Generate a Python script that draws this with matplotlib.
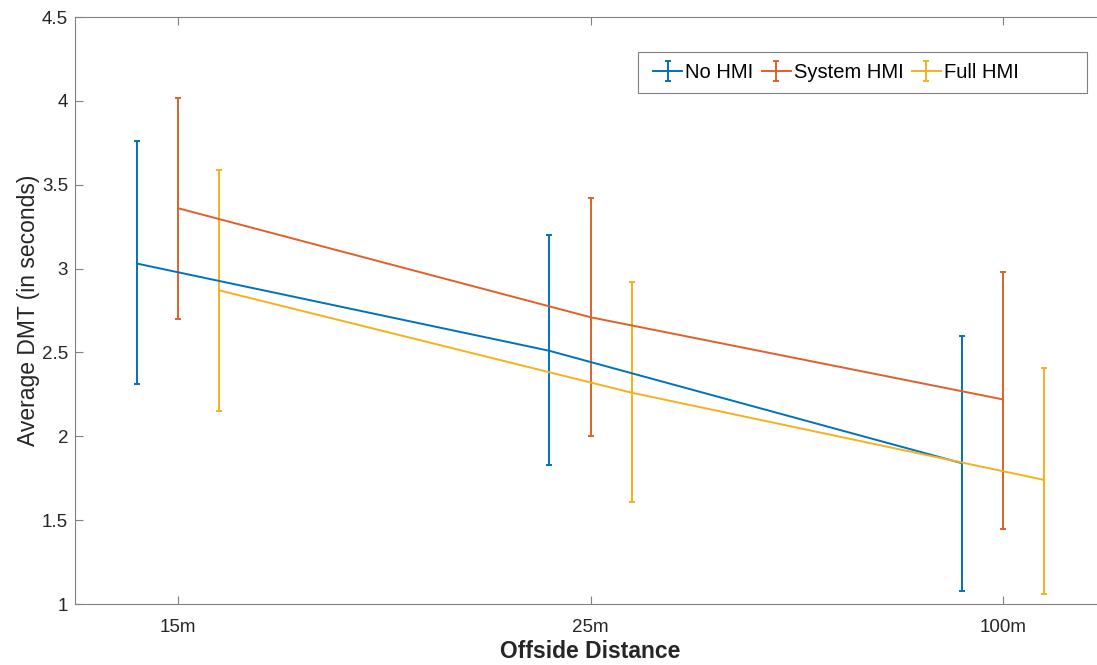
import numpy as np
import matplotlib
matplotlib.use("Agg")
import matplotlib.pyplot as plt
from matplotlib.patches import Rectangle

distances = ["15m", "25m", "100m"]
series = ["No HMI", "System HMI", "Full HMI"]
means = {
    "No HMI": [3.03, 2.51, 1.84],
    "System HMI": [3.36, 2.71, 2.22],
    "Full HMI": [2.87, 2.26, 1.74],
}
upper = {
    "No HMI": [3.76, 3.20, 2.60],
    "System HMI": [4.02, 3.42, 2.98],
    "Full HMI": [3.59, 2.92, 2.41],
}
lower = {
    "No HMI": [2.31, 1.83, 1.08],
    "System HMI": [2.70, 2.00, 1.45],
    "Full HMI": [2.15, 1.61, 1.06],
}
colors = ["#0072BD", "#E0602A", "#F7B01E"]
offsets = [-0.1, 0.0, 0.1]

plt.rcParams["font.family"] = ["Liberation Sans", "DejaVu Sans"]

fig = plt.figure(figsize=(10.97, 6.65), dpi=100)
# right edge runs a little past the picture, like the cropped original
ax = fig.add_axes([0.0684, 0.0917, 0.9398, 0.8827])

x = np.arange(1, len(distances) + 1)
for name, c, off in zip(series, colors, offsets):
    m = np.array(means[name])
    lo = m - np.array(lower[name])
    hi = np.array(upper[name]) - m
    ax.errorbar(x + off, m, yerr=[lo, hi], color=c, lw=1.4, elinewidth=1.4,
                capsize=2, capthick=1.4, label=name)

ax.set_xlim(0.75, 3.25)
ax.set_ylim(1, 4.5)
ax.set_xticks(x)
ax.set_xticklabels(distances)
ax.set_yticks([1, 1.5, 2, 2.5, 3, 3.5, 4, 4.5])
ax.set_yticklabels(["1", "1.5", "2", "2.5", "3", "3.5", "4", "4.5"])
ax.tick_params(direction="in", length=6, width=0.8, colors="#808080",
               labelcolor="#262626", labelsize=13.5, top=True, right=True)
ax.tick_params(axis="y", pad=5)
ax.tick_params(axis="x", pad=10.5)
for s in ax.spines.values():
    s.set_color("#808080")
    s.set_linewidth(0.8)

ax.set_xlabel("Offside Distance", fontsize=16.5, fontweight="bold", color="#262626", labelpad=3)
ax.set_ylabel("Average DMT (in seconds)", fontsize=16.5, color="#262626", labelpad=1)

# matlab style legend box: wider than its entries, empty on the right
box = Rectangle((0.546, 0.8705), 0.4356, 0.0699, transform=ax.transAxes,
                facecolor="white", edgecolor="#808080", lw=0.8, zorder=4)
ax.add_patch(box)
leg = ax.legend(loc="center left", ncol=3, bbox_to_anchor=(0.5606, 0.9055),
                fontsize=14.5, handlelength=1.45, handletextpad=0.15,
                columnspacing=0.4, frameon=False, borderpad=0, borderaxespad=0)
leg.set_zorder(5)

fig.savefig("out.png", dpi=100)
